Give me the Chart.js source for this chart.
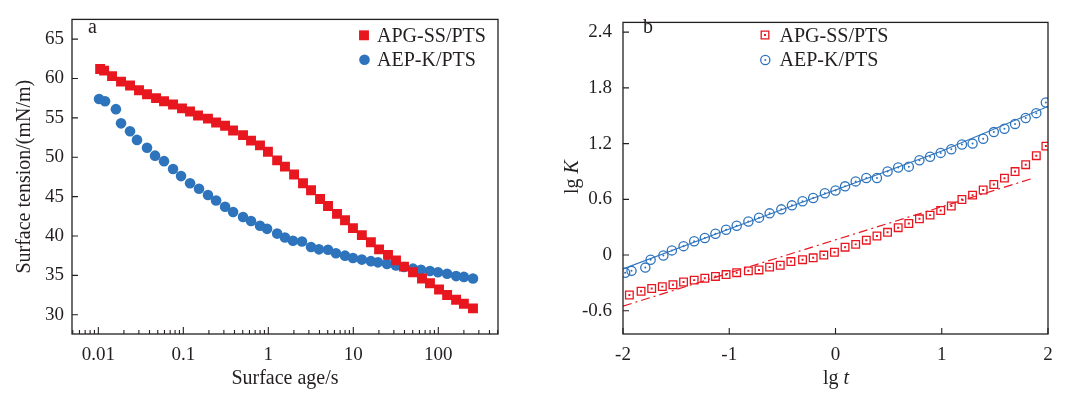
<!DOCTYPE html>
<html>
<head>
<meta charset="utf-8">
<script src="https://cdn.jsdelivr.net/npm/chart.js@4/dist/chart.umd.min.js"></script>
<style>
  body { margin: 0; background: #fff; }
  #wrap { position: relative; width: 1078px; height: 397px; }
  canvas { position: absolute; top: 0; }
</style>
</head>
<body>
<div id="wrap">
  <canvas id="chartA" width="539" height="397" style="left:0"></canvas>
  <canvas id="chartB" width="539" height="397" style="left:539px"></canvas>
</div>
<script>
// panel a: surface tension vs surface age
const redAgeS = [0.0105, 0.0117, 0.0145, 0.0185, 0.0236, 0.0301, 0.0374, 0.0478, 0.0593, 0.0757,
  0.0965, 0.120, 0.149, 0.195, 0.243, 0.310, 0.385, 0.504, 0.626, 0.798,
  0.99, 1.27, 1.57, 2.01, 2.56, 3.18, 4.06, 5.04, 6.43, 7.99,
  9.91, 12.6, 16.1, 20.1, 25.6, 31.8, 39.5, 50.4, 64.3, 79.8,
  102, 127, 162, 200, 256];
const redTension = [61.2, 61.0, 60.3, 59.6, 59.1, 58.5, 58.0, 57.5, 57.1, 56.7,
  56.2, 55.8, 55.3, 54.9, 54.4, 54.0, 53.4, 52.8, 52.1, 51.5,
  50.7, 49.6, 48.8, 47.8, 46.7, 45.8, 44.7, 43.8, 42.8, 42.0,
  41.0, 40.1, 39.2, 38.3, 37.6, 36.9, 36.1, 35.4, 34.6, 34.0,
  33.2, 32.5, 31.9, 31.4, 30.8];
const blueAgeS = [0.0102, 0.0120, 0.0161, 0.0185, 0.0236, 0.0285, 0.0374, 0.0465, 0.0593, 0.0757,
  0.094, 0.120, 0.153, 0.195, 0.243, 0.310, 0.385, 0.504, 0.626, 0.798,
  0.966, 1.27, 1.57, 1.95, 2.49, 3.18, 3.94, 5.04, 6.25, 7.99,
  9.91, 12.6, 16.1, 19.5, 24.9, 31.8, 39.5, 50.4, 62.5, 79.8,
  99.1, 127, 162, 200, 256];
const blueTension = [57.4, 57.1, 56.1, 54.3, 53.3, 52.2, 51.2, 50.2, 49.5, 48.5,
  47.6, 46.7, 46.0, 45.2, 44.5, 43.7, 43.05, 42.4, 41.9, 41.3,
  40.9, 40.3, 39.8, 39.4, 39.3, 38.6, 38.3, 38.25, 37.8, 37.5,
  37.2, 37.0, 36.8, 36.65, 36.45, 36.25, 36.05, 35.85, 35.7, 35.55,
  35.4, 35.2, 34.9, 34.8, 34.6];
const aXTicks = [0.01, 0.1, 1, 10, 100];
const aYTicks = [30, 35, 40, 45, 50, 55, 60, 65];

// panel b: lg K vs lg t
const redLgT = [-1.94, -1.83, -1.73, -1.63, -1.53, -1.43, -1.33, -1.23, -1.13, -1.03,
  -0.93, -0.82, -0.72, -0.62, -0.52, -0.42, -0.31, -0.21, -0.11, -0.01,
  0.09, 0.19, 0.29, 0.39, 0.49, 0.59, 0.69, 0.79, 0.89, 0.99,
  1.09, 1.19, 1.29, 1.39, 1.49, 1.59, 1.69, 1.79, 1.89, 1.98];
const redLgK = [-0.43, -0.39, -0.36, -0.34, -0.32, -0.29, -0.27, -0.25, -0.23, -0.21,
  -0.19, -0.17, -0.16, -0.13, -0.11, -0.07, -0.05, -0.03, 0.00, 0.03,
  0.085, 0.115, 0.16, 0.205, 0.245, 0.295, 0.34, 0.39, 0.43, 0.48,
  0.528, 0.598, 0.645, 0.70, 0.76, 0.828, 0.899, 0.973, 1.07, 1.173];
const blueLgT = [-1.98, -1.92, -1.79, -1.74, -1.62, -1.54, -1.43, -1.33, -1.23, -1.13,
  -1.03, -0.93, -0.82, -0.72, -0.62, -0.51, -0.41, -0.31, -0.21, -0.10,
  0.00, 0.09, 0.19, 0.29, 0.39, 0.49, 0.59, 0.69, 0.79, 0.89,
  0.99, 1.09, 1.19, 1.29, 1.39, 1.49, 1.59, 1.69, 1.79, 1.89, 1.98];
const blueLgK = [-0.19, -0.17, -0.135, -0.05, -0.005, 0.05, 0.096, 0.149, 0.184, 0.23,
  0.273, 0.315, 0.361, 0.403, 0.449, 0.492, 0.535, 0.58, 0.615, 0.665,
  0.695, 0.74, 0.793, 0.83, 0.83, 0.90, 0.942, 0.952, 1.02, 1.058,
  1.10, 1.139, 1.19, 1.20, 1.253, 1.324, 1.36, 1.412, 1.475, 1.528, 1.642];
const redFitLgT = [-2, 1.84];
const redFitLgK = [-0.55, 0.82];
const blueFitLgT = [-2, -1, 0, 1, 2];
const blueFitLgK = [-0.15, 0.28, 0.70, 1.12, 1.60];
const bXTicks = [-2, -1, 0, 1, 2];
const bYTicks = [-0.6, 0, 0.6, 1.2, 1.8, 2.4];

const ink = '#231f20';
const red = '#e8161f';
const blue = '#2e74bd';
const serif = '"Liberation Serif", "Times New Roman", serif';

const pts = (xs, ys) => xs.map((v, i) => ({x: v, y: ys[i]}));

// frame, inward ticks, legend, panel letter, rich axis titles
const deco = {
  id: 'deco',
  afterDraw(chart, args, o) {
    const {ctx, chartArea: a} = chart;
    const sx = chart.scales.x, sy = chart.scales.y;
    ctx.save();
    ctx.strokeStyle = ink;
    ctx.lineWidth = 1.3;
    ctx.strokeRect(a.left, a.top, a.right - a.left, a.bottom - a.top);
    ctx.lineWidth = 1.1;
    ctx.beginPath();
    o.yTicks.forEach(v => {
      const p = sy.getPixelForValue(v);
      ctx.moveTo(a.left, p); ctx.lineTo(a.left + 6, p);
    });
    if (o.logX) {
      for (let e = -3; e <= 3; e++) {
        for (let m = 1; m <= 9; m++) {
          const v = m * Math.pow(10, e);
          if (v <= sx.min || v >= sx.max) continue;
          const p = sx.getPixelForValue(v);
          ctx.moveTo(p, a.bottom); ctx.lineTo(p, a.bottom - (m === 1 ? 7 : 4));
        }
      }
    } else {
      o.xTicks.forEach(v => {
        const p = sx.getPixelForValue(v);
        ctx.moveTo(p, a.bottom); ctx.lineTo(p, a.bottom - 6);
      });
    }
    ctx.stroke();

    // legend
    o.legend.forEach(it => {
      [it.ds, it.dot].forEach(k => {
        if (k === undefined) return;
        const d = chart.data.datasets[k];
        ctx.fillStyle = d.backgroundColor;
        ctx.strokeStyle = d.borderColor;
        ctx.lineWidth = d.pointBorderWidth || 0;
        Chart.helpers.drawPoint(ctx, {
          pointStyle: d.pointStyle, radius: d.pointRadius,
          borderWidth: d.pointBorderWidth || 0, rotation: 0
        }, it.mx, it.my);
      });
      ctx.fillStyle = ink;
      ctx.font = '20px ' + serif;
      ctx.textAlign = 'left';
      ctx.textBaseline = 'alphabetic';
      ctx.fillText(chart.data.datasets[it.ds].label, it.tx, it.ty);
    });

    ctx.fillStyle = ink;
    ctx.font = '20px ' + serif;
    ctx.textAlign = 'left';
    ctx.textBaseline = 'alphabetic';
    ctx.fillText(o.panel.text, o.panel.x, o.panel.y);

    (o.titles || []).forEach(t => {
      ctx.save();
      ctx.translate(t.x, t.y);
      ctx.rotate(t.rot);
      let w = 0;
      t.parts.forEach(p => { ctx.font = p.font; w += ctx.measureText(p.t).width; });
      let xx = -w / 2;
      t.parts.forEach(p => {
        ctx.font = p.font;
        ctx.fillText(p.t, xx, 0);
        xx += ctx.measureText(p.t).width;
      });
      ctx.restore();
    });
    ctx.restore();
  }
};

const tickFont = {family: serif, size: 19};

const chartA = new Chart(document.getElementById('chartA'), {
  type: 'scatter',
  data: {
    datasets: [{
      label: 'APG-SS/PTS',
      data: pts(redAgeS, redTension),
      pointStyle: 'rect',
      pointRadius: 7,
      pointBorderWidth: 0,
      backgroundColor: red,
      borderColor: red,
    }, {
      label: 'AEP-K/PTS',
      data: pts(blueAgeS, blueTension),
      pointStyle: 'circle',
      pointRadius: 5.3,
      pointBorderWidth: 0,
      backgroundColor: blue,
      borderColor: blue,
    }],
  },
  options: {
    responsive: false,
    animation: false,
    devicePixelRatio: 1,
    events: [],
    layout: {padding: {top: 15, right: 41, bottom: 0, left: 0}},
    scales: {
      x: {
        type: 'logarithmic',
        min: 0.0049,
        max: 504,
        afterBuildTicks: s => { s.ticks = aXTicks.map(v => ({value: v})); },
        afterFit: s => { s.height = 63; },
        grid: {display: false, drawTicks: false},
        border: {display: false},
        ticks: {font: tickFont, color: ink, padding: 10, maxRotation: 0, autoSkip: false,
          callback: v => String(v)},
        title: {display: true, text: 'Surface age/s', color: ink,
          font: {family: serif, size: 20}, padding: {top: 0, bottom: 6}},
      },
      y: {
        min: 27.55,
        max: 67.5,
        afterBuildTicks: s => { s.ticks = aYTicks.map(v => ({value: v})); },
        afterFit: s => { s.width = 72; },
        grid: {display: false, drawTicks: false},
        border: {display: false},
        ticks: {font: tickFont, color: ink, padding: 8, autoSkip: false,
          callback: v => String(v)},
        title: {display: true, text: 'Surface tension/(mN/m)', color: ink,
          font: {family: serif, size: 20}, padding: {top: 13, bottom: 0}},
      },
    },
    plugins: {
      legend: {display: false},
      tooltip: {enabled: false},
      deco: {
        logX: true,
        yTicks: aYTicks,
        legend: [
          {ds: 0, mx: 364, my: 35.3, tx: 377, ty: 41.7},
          {ds: 1, mx: 364.5, my: 59.7, tx: 377, ty: 66},
        ],
        panel: {text: 'a', x: 88, y: 33.3},
      },
    },
  },
  plugins: [deco],
});

const chartB = new Chart(document.getElementById('chartB'), {
  type: 'scatter',
  data: {
    datasets: [{
      label: 'APG-SS/PTS',
      data: pts(redLgT, redLgK),
      pointStyle: 'rect',
      pointRadius: 5.4,
      pointBorderWidth: 1.3,
      backgroundColor: 'rgba(0,0,0,0)',
      borderColor: red,
      clip: 0,
    }, {
      label: 'APG-SS/PTS centre',
      data: pts(redLgT, redLgK),
      pointStyle: 'rect',
      pointRadius: 1.4,
      pointBorderWidth: 0,
      backgroundColor: red,
      borderColor: red,
      clip: 0,
    }, {
      label: 'AEP-K/PTS',
      data: pts(blueLgT, blueLgK),
      pointStyle: 'circle',
      pointRadius: 4.6,
      pointBorderWidth: 1.3,
      backgroundColor: 'rgba(0,0,0,0)',
      borderColor: blue,
      clip: 0,
    }, {
      label: 'AEP-K/PTS centre',
      data: pts(blueLgT, blueLgK),
      pointStyle: 'circle',
      pointRadius: 1,
      pointBorderWidth: 0,
      backgroundColor: blue,
      borderColor: blue,
      clip: 0,
    }, {
      label: 'APG-SS/PTS fit',
      data: pts(redFitLgT, redFitLgK),
      showLine: true,
      pointRadius: 0,
      borderColor: red,
      borderWidth: 1.2,
      borderDash: [9, 4, 2, 4],
      clip: 0,
    }, {
      label: 'AEP-K/PTS fit',
      data: pts(blueFitLgT, blueFitLgK),
      showLine: true,
      pointRadius: 0,
      borderColor: blue,
      borderWidth: 1.2,
      clip: 0,
    }],
  },
  options: {
    responsive: false,
    animation: false,
    devicePixelRatio: 1,
    events: [],
    layout: {padding: {top: 15, right: 30, bottom: 0, left: 0}},
    scales: {
      x: {
        min: -2,
        max: 2,
        afterBuildTicks: s => { s.ticks = bXTicks.map(v => ({value: v})); },
        afterFit: s => { s.height = 63; },
        grid: {display: false, drawTicks: false},
        border: {display: false},
        ticks: {font: tickFont, color: ink, padding: 10, maxRotation: 0, autoSkip: false,
          callback: v => String(v)},
      },
      y: {
        min: -0.85,
        max: 2.505,
        afterBuildTicks: s => { s.ticks = bYTicks.map(v => ({value: v})); },
        afterFit: s => { s.width = 84; },
        grid: {display: false, drawTicks: false},
        border: {display: false},
        ticks: {font: tickFont, color: ink, padding: 11, autoSkip: false,
          callback: v => String(v)},
      },
    },
    plugins: {
      legend: {display: false},
      tooltip: {enabled: false},
      deco: {
        logX: false,
        xTicks: bXTicks,
        yTicks: bYTicks,
        legend: [
          {ds: 0, dot: 1, mx: 226, my: 35, tx: 240.5, ty: 41.7},
          {ds: 2, dot: 3, mx: 226.3, my: 60, tx: 240.5, ty: 66},
        ],
        panel: {text: 'b', x: 104, y: 33.3},
        titles: [
          {x: 297, y: 384, rot: 0, parts: [
            {t: 'lg ', font: '20px ' + serif},
            {t: 't', font: 'italic 20px ' + serif}]},
          {x: 39, y: 177, rot: -Math.PI / 2, parts: [
            {t: 'lg ', font: '20px ' + serif},
            {t: 'K', font: 'italic 20px ' + serif}]},
        ],
      },
    },
  },
  plugins: [deco],
});
</script>
</body>
</html>
